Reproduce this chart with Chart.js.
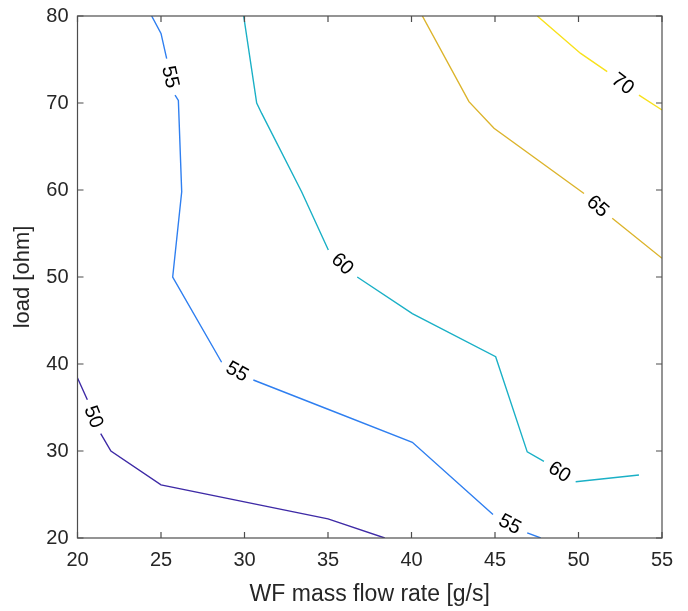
<!DOCTYPE html>
<html>
<head>
<meta charset="utf-8">
<script src="https://cdn.jsdelivr.net/npm/chart.js@4/dist/chart.umd.min.js"></script>
<style>
  html, body { margin: 0; padding: 0; background: #fff; }
  #wrap { width: 688px; height: 611px; }
</style>
</head>
<body>
<div id="wrap"><canvas id="contourChart"></canvas></div>
<script>
// contour levels and their polylines (null = break where the level label sits)
var levels = [50, 55, 60, 65, 70];
var levelColors = ['#3e2aa6', '#2f7ff0', '#1ab0c6', '#dcb42c', '#f8e11c'];

var c50x = [20, 20.59, null, 21.39, 22, 25, 35, 38.4];
var c50y = [38.4, 35.9, null, 32.0, 30, 26.1, 22.2, 20];

var c55x = [24.44, 25.0, 25.34, null, 25.84, 26.04, 26.24, 25.7, 28.63, null, 30.53, 35, 40.05, 44.88, null, 46.93, 47.74];
var c55y = [80, 78.0, 75.1, null, 70.9, 70.3, 59.8, 50.0, 40.2, null, 38.16, 34.8, 31.0, 22.7, null, 20.6, 20];

var c60x = [29.95, 30.73, 31.03, 33.42, 35.02, null, 36.75, 40.05, 45.04, 46.93, 47.93, null, 49.83, 53.62];
var c60y = [80, 70, 68.8, 59.8, 53.1, null, 50.0, 45.8, 40.84, 29.9, 28.8, null, 26.47, 27.24];

var c65x = [40.65, 43.44, 44.94, 50.33, null, 52.02, 55];
var c65y = [80, 70.15, 67.1, 59.6, null, 56.75, 52.15];

var c70x = [47.53, 50.13, 51.72, null, 53.62, 55];
var c70y = [80, 75.7, 73.6, null, 70.9, 69.2];

var xTicks = [20, 25, 30, 35, 40, 45, 50, 55];
var yTicks = [20, 30, 40, 50, 60, 70, 80];

var contourX = [c50x, c55x, c60x, c65x, c70x];
var contourY = [c50y, c55y, c60y, c65y, c70y];

var fontFamily = '"Liberation Sans", Arial, Helvetica, sans-serif';

function toPoints(xs, ys) {
  return xs.map(function (x, i) {
    return { x: x, y: ys[i] };
  });
}

var datasets = levels.map(function (lv, k) {
  return {
    label: String(lv),
    data: toPoints(contourX[k], contourY[k]),
    borderColor: levelColors[k],
    borderWidth: 1.4,
    showLine: true,
    pointRadius: 0,
    spanGaps: false,
    tension: 0
  };
});

// inline level labels, placed in the breaks of each contour
var contourLabels = {
  id: 'contourLabels',
  afterDatasetsDraw: function (chart) {
    var ctx = chart.ctx;
    var xs = chart.scales.x, ys = chart.scales.y;
    ctx.save();
    ctx.font = '20px ' + fontFamily;
    ctx.fillStyle = '#000';
    ctx.textAlign = 'center';
    ctx.textBaseline = 'middle';
    chart.data.datasets.forEach(function (ds) {
      var d = ds.data;
      for (var i = 1; i < d.length - 1; i++) {
        if (d[i].x !== null) continue;
        var x0 = xs.getPixelForValue(d[i - 1].x), y0 = ys.getPixelForValue(d[i - 1].y);
        var x1 = xs.getPixelForValue(d[i + 1].x), y1 = ys.getPixelForValue(d[i + 1].y);
        var ang = Math.atan2(y1 - y0, x1 - x0);
        if (ang > Math.PI / 2) ang -= Math.PI;
        if (ang <= -Math.PI / 2) ang += Math.PI;
        ctx.save();
        ctx.translate((x0 + x1) / 2, (y0 + y1) / 2);
        ctx.rotate(ang);
        ctx.fillText(ds.label, 0, 1);
        ctx.restore();
      }
    });
    ctx.restore();
  }
};

// box around the plot with inward ticks on all four sides
var axisBox = {
  id: 'axisBox',
  afterDraw: function (chart) {
    var ctx = chart.ctx, a = chart.chartArea;
    var xs = chart.scales.x, ys = chart.scales.y;
    var len = 6;
    ctx.save();
    ctx.strokeStyle = '#4d4d4d';
    ctx.lineWidth = 1.2;
    ctx.strokeRect(a.left, a.top, a.right - a.left, a.bottom - a.top);
    ctx.beginPath();
    xTicks.forEach(function (v) {
      var px = xs.getPixelForValue(v);
      ctx.moveTo(px, a.bottom); ctx.lineTo(px, a.bottom - len);
      ctx.moveTo(px, a.top); ctx.lineTo(px, a.top + len);
    });
    yTicks.forEach(function (v) {
      var py = ys.getPixelForValue(v);
      ctx.moveTo(a.left, py); ctx.lineTo(a.left + len, py);
      ctx.moveTo(a.right, py); ctx.lineTo(a.right - len, py);
    });
    ctx.stroke();
    ctx.restore();
  }
};

var ctx = document.getElementById('contourChart');
new Chart(ctx, {
  type: 'scatter',
  data: { datasets: datasets },
  options: {
    responsive: true,
    maintainAspectRatio: false,
    animation: false,
    events: [],
    layout: { padding: { top: 16, right: 26, left: 0, bottom: 0 } },
    plugins: {
      legend: { display: false },
      tooltip: { enabled: false }
    },
    scales: {
      x: {
        type: 'linear',
        min: 20,
        max: 55,
        grid: { display: false, drawTicks: false },
        border: { display: false },
        afterBuildTicks: function (s) {
          s.ticks = xTicks.map(function (v) { return { value: v }; });
        },
        afterFit: function (s) { s.height = 73; },
        ticks: {
          padding: 10,
          color: '#262626',
          font: { family: fontFamily, size: 20 }
        },
        title: {
          display: true,
          text: 'WF mass flow rate [g/s]',
          color: '#262626',
          font: { family: fontFamily, size: 23 },
          padding: { top: 0, bottom: 3 }
        }
      },
      y: {
        type: 'linear',
        min: 20,
        max: 80,
        grid: { display: false, drawTicks: false },
        border: { display: false },
        afterBuildTicks: function (s) {
          s.ticks = yTicks.map(function (v) { return { value: v }; });
        },
        afterFit: function (s) {
          s.width = 77.5;
          s.paddingTop = 0;
          s.paddingBottom = 0;
        },
        ticks: {
          padding: 9,
          color: '#262626',
          font: { family: fontFamily, size: 20 }
        },
        title: {
          display: true,
          text: 'load [ohm]',
          color: '#262626',
          font: { family: fontFamily, size: 22 },
          padding: { top: 10, bottom: 0 }
        }
      }
    }
  },
  plugins: [contourLabels, axisBox]
});
</script>
</body>
</html>
